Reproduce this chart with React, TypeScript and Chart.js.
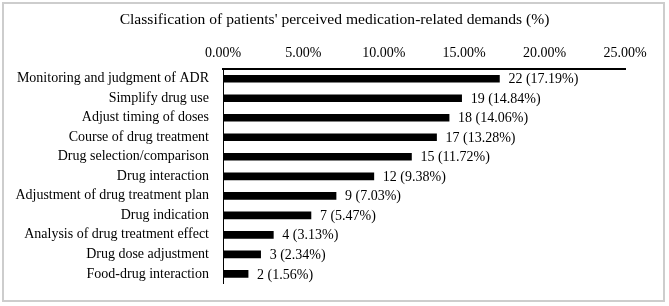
import React, { useEffect, useRef } from "react";
import { Chart, registerables } from "chart.js";

Chart.register(...registerables);

const titleText = "Classification of patients' perceived medication-related demands (%)";
const categories = [
  "Monitoring and judgment of ADR",
  "Simplify drug use",
  "Adjust timing of doses",
  "Course of drug treatment",
  "Drug selection/comparison",
  "Drug interaction",
  "Adjustment of drug treatment plan",
  "Drug indication",
  "Analysis of drug treatment effect",
  "Drug dose adjustment",
  "Food-drug interaction",
];
const counts = [22, 19, 18, 17, 15, 12, 9, 7, 4, 3, 2];
const percents = [17.19, 14.84, 14.06, 13.28, 11.72, 9.38, 7.03, 5.47, 3.13, 2.34, 1.56];
const xTicks = [0, 5, 10, 15, 20, 25];

const FONT = "'Liberation Serif', 'Times New Roman', serif";

const labelPlugin = {
  id: "barLabels",
  afterDatasetsDraw(chart: any) {
    const ctx = chart.ctx;
    const meta = chart.getDatasetMeta(0);
    ctx.save();
    ctx.font = `14px ${FONT}`;
    ctx.fillStyle = "#000";
    ctx.textAlign = "left";
    ctx.textBaseline = "middle";
    meta.data.forEach((bar: any, i: number) => {
      ctx.fillText(`${counts[i]} (${percents[i].toFixed(2)}%)`, bar.x + 9, bar.y + 1);
    });
    ctx.restore();
  },
};

const titlePlugin = {
  id: "centerTitle",
  afterDraw(chart: any) {
    const ctx = chart.ctx;
    ctx.save();
    ctx.font = `15.6px ${FONT}`;
    ctx.fillStyle = "#000";
    ctx.textAlign = "center";
    ctx.textBaseline = "middle";
    ctx.fillText(titleText, chart.width / 2, 20);
    ctx.restore();
  },
};

export default function App() {
  const ref = useRef<HTMLCanvasElement | null>(null);
  useEffect(() => {
    if (!ref.current) return;
    Chart.defaults.font.family = FONT;
    Chart.defaults.color = "#000";
    const chart = new Chart(ref.current, {
      type: "bar",
      data: {
        labels: categories,
        datasets: [
          {
            data: percents,
            backgroundColor: "#000",
            barThickness: 7,
          },
        ],
      },
      options: {
        indexAxis: "y",
        animation: false,
        responsive: false,
        maintainAspectRatio: false,
        layout: { padding: { left: 0, right: 44, top: 45, bottom: 21 } },
        plugins: {
          legend: { display: false },
          tooltip: { enabled: false },
          title: { display: false },
        },
        scales: {
          x: {
            position: "top",
            min: 0,
            max: 25,
            afterBuildTicks: (s: any) => {
              s.ticks = xTicks.map((v) => ({ value: v }));
            },
            afterFit: (s: any) => {
              s.height = 24;
            },
            grid: { display: false, drawTicks: false },
            border: { display: true, color: "#000", width: 2 },
            ticks: {
              padding: 7,
              font: { size: 14, family: FONT },
              color: "#000",
              callback: (v: any) => Number(v).toFixed(2) + "%",
            },
          },
          y: {
            afterFit: (s: any) => {
              s.width = 223;
            },
            grid: { display: false, drawTicks: false },
            border: { display: true, color: "#000", width: 1 },
            ticks: {
              padding: 14,
              font: { size: 14, family: FONT },
              color: "#000",
              autoSkip: false,
            },
          },
        },
      },
      plugins: [labelPlugin, titlePlugin],
    } as any);
    return () => chart.destroy();
  }, []);

  return (
    <div style={{ position: "fixed", left: 0, top: 0, width: 669, height: 306, background: "#fff" }}>
      <div
        style={{
          position: "absolute",
          left: 2,
          top: 2,
          width: 659,
          height: 296,
          border: "2px solid #cdcdcd",
        }}
      />
      <canvas ref={ref} width={669} height={306} style={{ position: "absolute", left: 0, top: 0, width: 669, height: 306 }} />
    </div>
  );
}
